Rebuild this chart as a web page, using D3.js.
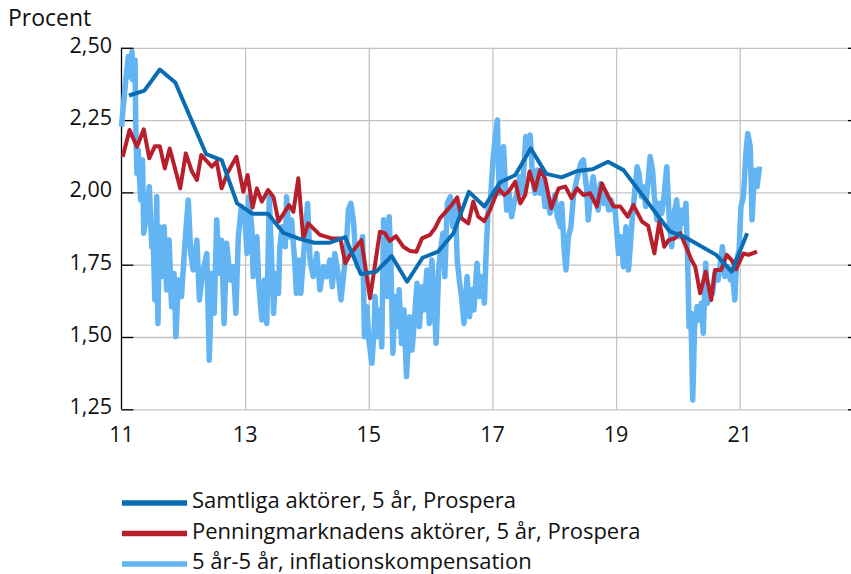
<!DOCTYPE html>
<html lang="sv">
<head>
<meta charset="UTF-8">
<title>Inflationsförväntningar</title>
<style>
  body { margin: 0; background: #fff; }
  svg text { font-family: "Open Sans", "DejaVu Sans", sans-serif; fill: #111; }
</style>
</head>
<body>
<svg id="chart" width="851" height="574"></svg>
<script src="https://cdn.jsdelivr.net/npm/d3@7"></script>
<script>
// x values are years (11 = 2011), y values in percent
const samtliga = [
  [11.12,2.335],[11.37,2.352],[11.62,2.425],[11.87,2.38],[12.37,2.132],[12.62,2.112],
  [12.87,1.962],[13.12,1.926],[13.37,1.926],[13.62,1.86],[13.87,1.84],[14.12,1.826],
  [14.37,1.826],[14.62,1.845],[14.87,1.718],[15.12,1.726],[15.37,1.78],[15.62,1.691],
  [15.87,1.774],[16.12,1.795],[16.37,1.859],[16.62,2.002],[16.87,1.951],[17.12,2.034],
  [17.37,2.06],[17.62,2.152],[17.87,2.064],[18.12,2.052],[18.37,2.074],[18.62,2.08],
  [18.87,2.106],[19.12,2.077],[19.87,1.865],[20.12,1.845],[20.62,1.784],[20.87,1.726],
  [21.12,1.859]
];

const penning = [
  [11.02,2.123],[11.13,2.216],[11.25,2.158],[11.36,2.218],[11.45,2.118],[11.54,2.16],
  [11.62,2.16],[11.70,2.083],[11.78,2.152],[11.95,2.014],[12.04,2.135],[12.14,2.072],
  [12.22,2.043],[12.29,2.129],[12.39,2.106],[12.46,2.089],[12.54,2.106],[12.62,2.014],
  [12.72,2.07],[12.86,2.123],[12.97,2.002],[13.04,2.06],[13.12,1.948],[13.19,2.014],
  [13.27,1.968],[13.37,2.008],[13.46,1.983],[13.54,1.899],[13.71,1.956],[13.78,1.933],
  [13.86,2.049],[13.94,1.841],[14.02,1.893],[14.21,1.853],[14.40,1.841],[14.54,1.841],
  [14.62,1.755],[14.71,1.789],[14.88,1.835],[15.02,1.634],[15.18,1.864],[15.26,1.859],
  [15.34,1.832],[15.44,1.849],[15.56,1.812],[15.67,1.797],[15.77,1.795],[15.86,1.841],
  [15.99,1.853],[16.07,1.876],[16.15,1.91],[16.32,1.951],[16.43,1.983],[16.50,1.91],
  [16.61,1.893],[16.69,1.968],[16.77,1.916],[16.87,1.901],[16.96,1.939],[17.10,2.014],
  [17.19,1.991],[17.26,2.002],[17.37,2.037],[17.45,1.962],[17.53,1.991],[17.60,2.072],
  [17.69,2.008],[17.77,2.077],[17.85,2.049],[17.95,1.945],[18.07,2.014],[18.18,2.02],
  [18.28,1.98],[18.37,2.014],[18.47,1.991],[18.58,1.997],[18.69,1.951],[18.77,2.031],
  [18.86,1.991],[18.96,1.951],[19.07,1.951],[19.19,1.916],[19.28,1.956],[19.42,1.899],
  [19.52,1.884],[19.62,1.789],[19.70,1.899],[19.78,1.812],[19.85,1.835],[19.95,1.841],
  [20.04,1.859],[20.12,1.818],[20.22,1.766],[20.28,1.743],[20.36,1.651],[20.45,1.726],
  [20.54,1.628],[20.60,1.732],[20.70,1.732],[20.79,1.784],[20.87,1.766],[20.94,1.734],
  [21.06,1.789],[21.14,1.784],[21.28,1.795]
];

const inflKomp = [
  [11.00,2.227],[11.03,2.30],[11.07,2.39],[11.11,2.47],[11.13,2.40],[11.17,2.487],
  [11.18,2.39],[11.22,2.458],[11.23,2.24],[11.25,2.066],[11.27,2.147],[11.31,1.974],
  [11.34,2.112],[11.36,1.859],[11.41,1.928],[11.45,2.02],[11.49,1.812],[11.51,1.859],
  [11.54,1.628],[11.57,1.985],[11.59,1.547],[11.61,1.881],[11.65,1.709],[11.69,1.881],
  [11.73,1.663],[11.77,1.835],[11.81,1.605],[11.85,1.72],[11.88,1.501],[11.92,1.697],
  [11.97,1.64],[12.03,1.835],[12.08,1.974],[12.12,1.789],[12.16,1.732],[12.22,1.835],
  [12.26,1.628],[12.31,1.72],[12.38,1.789],[12.42,1.42],[12.46,1.72],[12.50,1.582],
  [12.54,1.905],[12.58,1.72],[12.62,1.835],[12.66,1.547],[12.70,1.824],[12.76,1.697],
  [12.81,1.743],[12.85,1.582],[12.89,1.847],[12.94,1.951],[13.00,1.90],[13.03,1.789],
  [13.06,1.985],[13.11,1.87],[13.13,1.709],[13.19,1.847],[13.22,1.686],[13.27,1.559],
  [13.31,1.697],[13.35,1.547],[13.39,1.985],[13.43,1.755],[13.46,1.582],[13.49,1.72],
  [13.54,1.651],[13.56,1.812],[13.60,1.881],[13.65,1.812],[13.67,1.985],[13.71,1.847],
  [13.75,1.905],[13.80,1.766],[13.83,1.651],[13.87,1.766],[13.90,1.651],[13.96,1.824],
  [14.01,1.962],[14.05,1.766],[14.10,1.709],[14.16,1.789],[14.21,1.663],[14.27,1.743],
  [14.32,1.709],[14.37,1.766],[14.41,1.674],[14.45,1.789],[14.51,1.709],[14.55,1.628],
  [14.59,1.709],[14.63,1.789],[14.67,1.939],[14.71,1.962],[14.75,1.905],[14.78,1.812],
  [14.82,1.743],[14.86,1.789],[14.90,1.847],[14.93,1.501],[14.97,1.605],[15.00,1.49],
  [15.05,1.409],[15.09,1.536],[15.10,1.64],[15.14,1.501],[15.18,1.593],[15.21,1.466],
  [15.24,1.905],[15.26,1.743],[15.30,1.64],[15.33,1.916],[15.36,1.732],[15.39,1.444],
  [15.43,1.64],[15.46,1.536],[15.49,1.663],[15.53,1.478],[15.57,1.593],[15.61,1.363],
  [15.66,1.57],[15.70,1.455],[15.73,1.536],[15.78,1.686],[15.82,1.536],[15.86,1.674],
  [15.89,1.593],[15.94,1.732],[15.98,1.547],[16.02,1.766],[16.06,1.605],[16.09,1.478],
  [16.13,1.732],[16.16,1.801],[16.20,1.859],[16.23,1.709],[16.27,1.962],[16.32,1.985],
  [16.36,1.881],[16.40,1.962],[16.43,1.766],[16.47,1.686],[16.50,1.64],[16.54,1.547],
  [16.59,1.709],[16.63,1.57],[16.67,1.663],[16.70,1.593],[16.75,1.755],[16.79,1.64],
  [16.83,1.709],[16.87,1.617],[16.90,1.801],[16.93,1.939],[16.96,1.95],[17.01,2.112],
  [17.04,2.181],[17.08,2.25],[17.11,1.997],[17.15,2.112],[17.18,2.158],[17.21,2.02],
  [17.23,1.939],[17.27,1.997],[17.31,1.916],[17.35,1.962],[17.39,1.991],[17.44,2.054],
  [17.48,1.997],[17.51,2.089],[17.54,2.193],[17.58,2.147],[17.61,2.198],[17.65,2.054],
  [17.69,1.997],[17.73,2.077],[17.77,1.997],[17.81,2.043],[17.85,1.951],[17.89,1.991],
  [17.93,1.928],[17.98,1.962],[18.01,1.991],[18.05,1.916],[18.10,1.881],[18.12,1.962],
  [18.16,1.801],[18.19,1.732],[18.23,1.847],[18.27,1.881],[18.31,1.985],[18.35,2.031],
  [18.39,2.066],[18.43,2.101],[18.47,2.112],[18.52,2.02],[18.55,1.905],[18.59,1.997],
  [18.63,2.054],[18.68,1.974],[18.71,1.939],[18.75,2.031],[18.80,1.962],[18.84,1.997],
  [18.88,1.939],[18.92,1.974],[18.96,1.939],[18.98,1.95],[19.01,1.87],[19.04,1.789],
  [19.08,1.847],[19.12,1.743],[19.16,1.881],[19.20,1.732],[19.23,1.812],[19.26,1.905],
  [19.30,1.997],[19.34,2.089],[19.37,2.066],[19.41,1.985],[19.44,2.02],[19.48,1.951],
  [19.52,2.043],[19.55,2.124],[19.59,2.077],[19.62,1.985],[19.66,1.905],[19.70,1.962],
  [19.74,1.928],[19.78,1.997],[19.82,2.089],[19.86,1.905],[19.90,1.812],[19.94,1.928],
  [19.98,1.974],[20.02,1.847],[20.05,1.939],[20.09,1.893],[20.13,1.962],[20.16,1.743],
  [20.18,1.536],[20.21,1.582],[20.24,1.282],[20.27,1.536],[20.31,1.605],[20.34,1.559],
  [20.38,1.617],[20.41,1.513],[20.45,1.755],[20.48,1.617],[20.52,1.674],[20.56,1.651],
  [20.60,1.72],[20.65,1.697],[20.68,1.743],[20.72,1.812],[20.76,1.709],[20.81,1.743],
  [20.85,1.697],[20.88,1.732],[20.92,1.628],[20.95,1.766],[20.99,1.801],[21.02,1.951],
  [21.06,1.985],[21.10,2.135],[21.13,2.204],[21.17,2.158],[21.20,1.905],[21.24,2.077],
  [21.28,2.02],[21.32,2.089]
];

const yTicks = [1.25, 1.5, 1.75, 2.0, 2.25, 2.5];
const xTicks = [11, 13, 15, 17, 19, 21];
const legendLabels = [
  "Samtliga aktörer, 5 år, Prospera",
  "Penningmarknadens aktörer, 5 år, Prospera",
  "5 år-5 år, inflationskompensation"
];
const colors = ["#0a6db3", "#b81f2d", "#62b4f2"];

const svg = d3.select("#chart");
const plot = {left: 121.5, right: 851, top: 47.8, bottom: 409.3};

const x = d3.scaleLinear().domain([11, 22.8]).range([plot.left, plot.right]);
const y = d3.scaleLinear().domain([1.25, 2.5]).range([plot.bottom, plot.top]);

// grid
svg.append("g")
  .attr("transform", `translate(0,${plot.bottom})`)
  .call(d3.axisBottom(x).tickValues(xTicks.slice(1)).tickSize(-(plot.bottom - plot.top)).tickFormat(""))
  .call(g => g.select(".domain").remove())
  .call(g => g.selectAll("line").attr("stroke", "#c4c4c4").attr("stroke-width", 1.3));

svg.append("g")
  .attr("transform", `translate(${plot.left},0)`)
  .call(d3.axisLeft(y).tickValues(yTicks).tickSize(-(plot.right - plot.left)).tickFormat(""))
  .call(g => g.select(".domain").remove())
  .call(g => g.selectAll("line").attr("stroke", "#c4c4c4").attr("stroke-width", 1.3));

// left axis with inward ticks
svg.append("g")
  .attr("transform", `translate(${plot.left},0)`)
  .call(d3.axisRight(y).tickValues(yTicks).tickSize(12).tickFormat(""))
  .call(g => g.select(".domain").attr("d", `M0,${plot.top}V${plot.bottom}`).attr("stroke", "#000").attr("stroke-width", 1.3))
  .call(g => g.selectAll("line").attr("stroke", "#000").attr("stroke-width", 1.3));

// right axis tick stubs
svg.append("g")
  .attr("transform", `translate(${plot.right},0)`)
  .call(d3.axisLeft(y).tickValues(yTicks).tickSize(3).tickFormat(""))
  .call(g => g.select(".domain").remove())
  .call(g => g.selectAll("line").attr("stroke", "#000").attr("stroke-width", 1.3));

const fmt = d => d3.format(".2f")(d).replace(".", ",");
svg.append("g").selectAll("text")
  .data(yTicks).join("text")
  .attr("x", 112).attr("y", d => y(d) + 5)
  .attr("text-anchor", "end")
  .attr("font-size", 21.5)
  .text(fmt);

svg.append("g").selectAll("text")
  .data(xTicks).join("text")
  .attr("x", d => x(d)).attr("y", 442)
  .attr("text-anchor", "middle")
  .attr("font-size", 21.5)
  .text(d => d);

svg.append("text").attr("x", 8).attr("y", 26).attr("font-size", 23).text("Procent");

// series, light blue at the bottom
const line = d3.line().x(d => x(d[0])).y(d => y(d[1]));
const series = [
  {data: inflKomp, color: colors[2], width: 5.5},
  {data: penning, color: colors[1], width: 4},
  {data: samtliga, color: colors[0], width: 4}
];
svg.append("g").selectAll("path")
  .data(series).join("path")
  .attr("d", s => line(s.data))
  .attr("fill", "none")
  .attr("stroke", s => s.color)
  .attr("stroke-width", s => s.width)
  .attr("stroke-linejoin", "round");

// legend
const legend = svg.append("g").selectAll("g")
  .data(legendLabels).join("g")
  .attr("transform", (d, i) => `translate(122,${503 + i * 30.5})`);
legend.append("line")
  .attr("x1", 0).attr("x2", 65)
  .attr("stroke", (d, i) => colors[i])
  .attr("stroke-width", 5.5);
legend.append("text")
  .attr("x", 70).attr("y", 5)
  .attr("font-size", 22)
  .text(d => d);
</script>
</body>
</html>
